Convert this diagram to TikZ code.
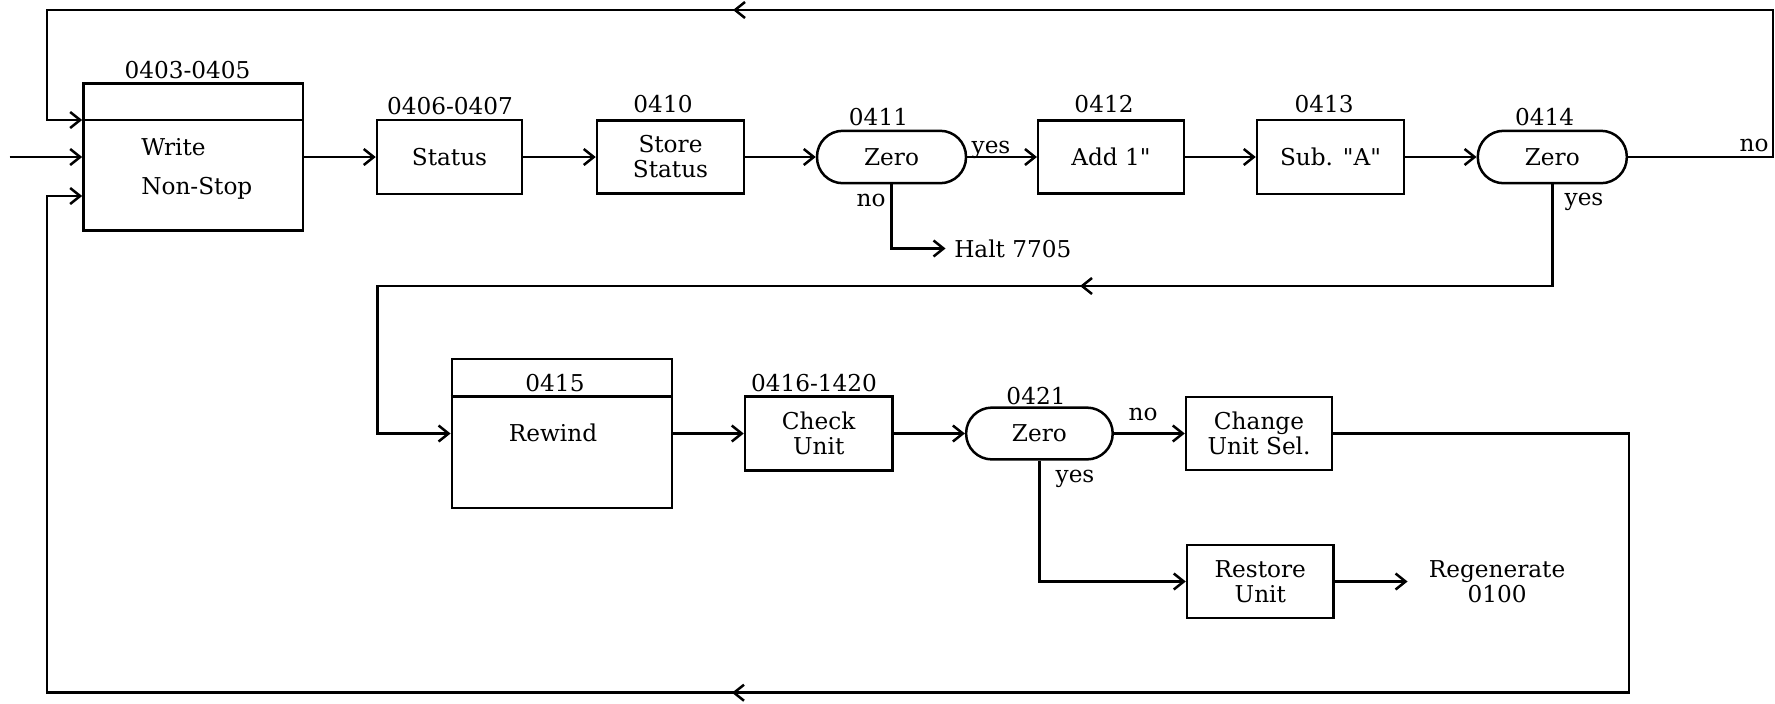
\documentclass[tikz,border=0pt]{standalone}
\usepackage{fontspec}
\setmainfont{DejaVu Serif}[Ligatures=TeXOff]
\usetikzlibrary{arrows.meta}
\newcommand{\lblfont}{\fontsize{11.6pt}{12.5pt}\selectfont}
\begin{document}
\begin{tikzpicture}[x=0.5pt,y=-0.5pt,
  line width=1.25pt,
  box/.style={draw, inner sep=0pt, align=center, font=\lblfont, minimum width=73pt, minimum height=36.8pt},
  zero/.style={draw, rounded corners=12.9pt, inner sep=0pt, font=\lblfont, minimum width=74.5pt, minimum height=26.2pt},
  lbl/.style={font=\lblfont, inner sep=0pt, anchor=base},
  arr/.style={-{Straight Barb[length=5pt,width=8pt]}}
]
\useasboundingbox (0,0) rectangle (1775,703);

% ---- top row ----
\node[box, minimum width=109.8pt, minimum height=73.7pt] (write) at (193.2,157) {};
\coordinate (wdiv) at (0,120);
\coordinate (wbot) at (0,196);
\draw (write.west |- wdiv) -- (write.east |- wdiv);
\node[lbl] (l0403) at (187.5,78.5) {0403-0405};
\node[lbl, anchor=base west] (wt1) at (140,155.5) {Write};
\node[lbl, anchor=base west] (wt2) at (140,194.5) {Non-Stop};

\node[box, minimum width=72.5pt, minimum height=37.2pt] (status) at (449.5,157) {Status};
\node[lbl] (l0406) at (450,114.5) {0406-0407};

\node[box, minimum width=73.5pt, minimum height=36.5pt] (store) at (670.5,157) {Store\\Status};
\node[lbl] (l0410) at (663,112.5) {0410};

\node[zero] (zero1) at (891.5,157) {Zero};
\node[lbl] (l0411) at (878.5,125.5) {0411};

\node[box, minimum width=72.8pt, minimum height=36.5pt] (add) at (1111,157) {Add 1"};
\node[lbl] (l0412) at (1104,112.5) {0412};

\node[box, minimum width=73.5pt, minimum height=36.8pt] (sub) at (1330.5,157) {Sub. "A"};
\node[lbl] (l0413) at (1324,112.5) {0413};

\node[zero] (zero2) at (1552.3,157) {Zero};
\node[lbl] (l0414) at (1544.6,125.5) {0414};

\node[font=\lblfont, inner xsep=3.75pt, inner ysep=0pt, anchor=west] (halt) at (945.5,248.5) {Halt 7705};

% ---- second row ----
\node[box, minimum width=110.2pt, minimum height=74.5pt] (rewind) at (562,433.5) {};
\coordinate (rdiv) at (0,396.7);
\draw (rewind.west |- rdiv) -- (rewind.east |- rdiv);
\node[lbl] (l0415) at (555,391.7) {0415};
\node[lbl] (rwt) at (553,441.7) {Rewind};

\node[box, minimum width=73.7pt, minimum height=36.8pt] (check) at (818.7,433.5) {Check\\Unit};
\node[lbl] (l0416) at (814,391.7) {0416-1420};

\node[zero, minimum width=73.3pt, minimum height=25.9pt] (zero3) at (1039.4,433.5) {Zero};
\node[lbl] (l0421) at (1036,404) {0421};

\node[box, minimum width=73pt, minimum height=36.3pt] (change) at (1259,433.5) {Change\\Unit Sel.};

\node[box, minimum width=73.3pt, minimum height=36.7pt] (restore) at (1260.3,581.5) {Restore\\Unit};
\node[font=\lblfont, align=center, inner xsep=10pt, inner ysep=0pt] (regen) at (1497,581.5) {Regenerate\\0100};

% ---- branch labels ----
\node[lbl] (y1) at (991,153) {yes};
\node[lbl] (n1) at (871,206.5) {no};
\node[lbl] (n2) at (1754,151.5) {no};
\node[lbl] (y2) at (1584,205) {yes};
\node[lbl] (n3) at (1143,420.7) {no};
\node[lbl] (y3) at (1075,482) {yes};

% ---- connectors ----
\coordinate (in) at (9.6,157);
\draw[arr] (in) -- (write.west);
\draw[arr] (write.east) -- (status.west);
\draw[arr] (status.east) -- (store.west);
\draw[arr] (store.east) -- (zero1.west);
\draw[arr] (zero1.east) -- (add.west);
\draw[arr] (add.east) -- (sub.west);
\draw[arr] (sub.east) -- (zero2.west);
\draw[arr] (zero1.south) -- (zero1.south |- halt.west) -- (halt.west);

% zero2 no -> back to write (top loop)
\draw[arr] (zero2.east) -- (1773,157) -- (1773,10) -- (47,10) -- (47,120) -- (write.west |- wdiv);
\coordinate (ta) at (752,10); \coordinate (tb) at (733,10);
\draw[arr] (ta) -- (tb);

% zero2 yes -> rewind
\draw[arr] (zero2.south) -- (1552.3,286) -- (377.7,286) -- (377.7,433.5) -- (rewind.west);
\coordinate (ma) at (1098,286); \coordinate (mb) at (1080,286);
\draw[arr] (ma) -- (mb);

\draw[arr] (rewind.east) -- (check.west);
\draw[arr] (check.east) -- (zero3.west);
\draw[arr] (zero3.east) -- (change.west);
\draw[arr] (zero3.south) -- (zero3.south |- restore.west) -- (restore.west);
\draw[arr] (restore.east) -- (regen.west);

% change -> back to write (bottom loop)
\draw[arr] (change.east) -- (1628.8,433.5) -- (1628.8,692.7) -- (47,692.7) -- (47,196) -- (write.west |- wbot);
\coordinate (ba) at (750,692.7); \coordinate (bb) at (732,692.7);
\draw[arr] (ba) -- (bb);
\end{tikzpicture}
\end{document}
